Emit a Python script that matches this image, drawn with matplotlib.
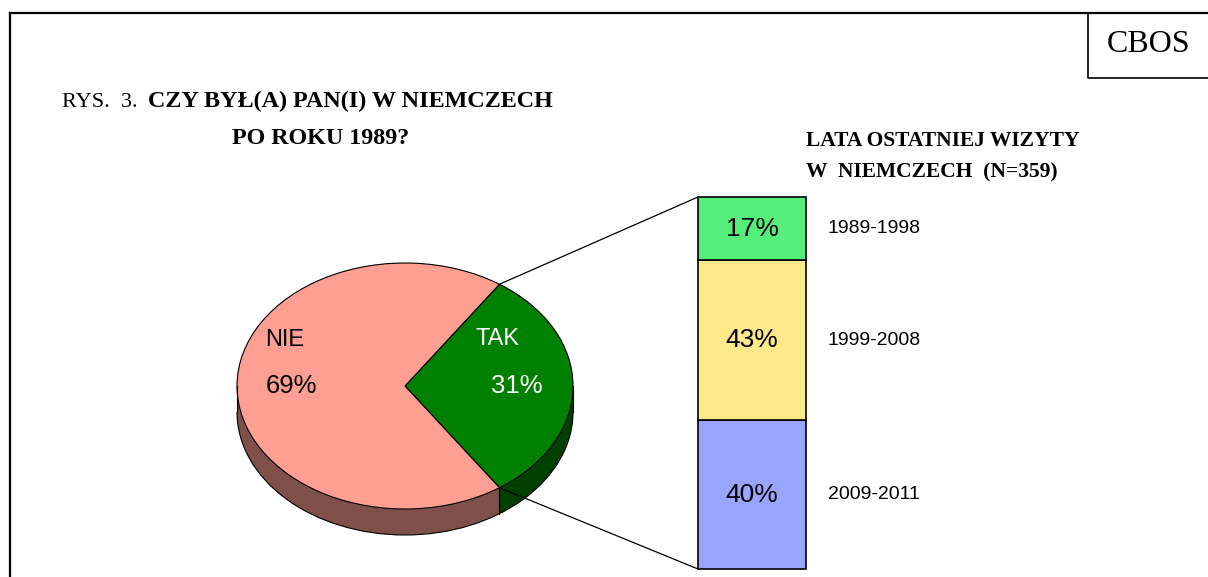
import matplotlib.pyplot as plt
from matplotlib.patches import ConnectionPatch, Arc
import numpy as np

# dane
pie_labels = ["TAK", "NIE"]
pie_values = [31, 69]
bar_labels = ["2009-2011", "1999-2008", "1989-1998"]
bar_values = [40, 43, 17]

pie_top = ["#008000", "#FF9E93"]
pie_side = ["#004000", "#7F4F4A"]
bar_colors = ["#99A4FF", "#FEE98A", "#55EE7A"]

W, H = 1208, 577
fig = plt.figure(figsize=(W / 100, H / 100), dpi=100)

def px_axes(x0, y0, x1, y1):
    # pozycja osi w pikselach (od lewego gornego rogu)
    return fig.add_axes([x0 / W, 1 - y1 / H, (x1 - x0) / W, (y1 - y0) / H])

# --- kolo "3D" ---
cx, cy, rx, ry = 405, 386, 168, 123
xl, yl_top, yl_bot = 1.2, 1.2, 1.5
ax = px_axes(cx - xl * rx, cy - yl_top * ry, cx + xl * rx, cy + yl_bot * ry)
depth = 26 / ry
start = -pie_values[0] * 3.6 / 2

# bok walca: najpierw zielony, potem rozowy na wierzchu
for cols in ([pie_side[0], "none"], ["none", pie_side[1]]):
    for d in np.linspace(0, depth, 40):
        ax.pie(pie_values, colors=cols, startangle=start, center=(0, -d),
               wedgeprops=dict(linewidth=0))
ax.add_patch(Arc((0, -depth), 2, 2, theta1=180, theta2=360, color="black", lw=0.8))
ax.plot([-1, -1], [0, -depth], color="black", lw=0.8)
ax.plot([1, 1], [0, -depth], color="black", lw=0.8)
a = np.deg2rad(start)
ax.plot([np.cos(a)] * 2, [np.sin(a), np.sin(a) - depth], color="black", lw=0.8)
ax.pie(pie_values, colors=pie_top, startangle=start,
       wedgeprops=dict(edgecolor="black", linewidth=0.8))
ax.set_aspect("auto")
ax.set_xlim(-xl, xl)
ax.set_ylim(-yl_bot, yl_top)
ax.axis("off")

# --- slupek ---
bx = px_axes(698, 197, 806, 569)
bottom = 0
for lab, val, col in zip(bar_labels, bar_values, bar_colors):
    bx.bar(0, val, width=1, bottom=bottom, color=col, edgecolor="black",
           linewidth=1.2, clip_on=False)
    bx.text(0, bottom + val / 2, f"{val}%", ha="center", va="center",
            fontsize=19, family="Liberation Sans")
    bx.text(0.70, bottom + val / 2, lab, ha="left", va="center",
            fontsize=14, family="Liberation Sans", clip_on=False)
    bottom += val
bx.set_xlim(-0.5, 0.5)
bx.set_ylim(0, sum(bar_values))
bx.axis("off")

# linie laczace
for sgn, yb in [(1, sum(bar_values)), (-1, 0)]:
    con = ConnectionPatch(xyA=(np.cos(a), -sgn * np.sin(a)), coordsA=ax.transData,
                          xyB=(-0.5, yb), coordsB=bx.transData,
                          color="black", lw=0.9)
    fig.add_artist(con)

# --- ramka, tytuly, etykiety ---
fr = fig.add_axes([0, 0, 1, 1])
fr.set_xlim(0, W)
fr.set_ylim(H, 0)
fr.axis("off")
fr.patch.set_alpha(0)
fr.plot([10, W], [12.5, 12.5], color="black", lw=1.6)
fr.plot([10, 10], [12.5, H], color="black", lw=1.6)
fr.plot([1088, 1088, W], [12.5, 78, 78], color="black", lw=1.2)
fr.text(1149, 44, "CBOS", ha="center", va="center", fontsize=23,
        family="Liberation Serif")

serif = "Liberation Serif"
fr.text(62, 107, "RYS.  3.", fontsize=16, family=serif, va="baseline")
fr.text(148, 107, "CZY BYŁ(A) PAN(I) W NIEMCZECH", fontsize=17.4,
        family=serif, weight="bold", va="baseline")
fr.text(232, 144, "PO ROKU 1989?", fontsize=17.4, family=serif,
        weight="bold", va="baseline")
fr.text(806, 146, "LATA OSTATNIEJ WIZYTY", fontsize=15.5, family=serif,
        weight="bold", va="baseline")
fr.text(806, 177, "W  NIEMCZECH  (N=359)", fontsize=15.5, family=serif,
        weight="bold", va="baseline")

fr.text(265, 340, pie_labels[1], fontsize=17, family="Liberation Sans",
        va="center")
fr.text(266, 386, f"{pie_values[1]}%", fontsize=18.5, family="Liberation Sans",
        va="center")
fr.text(476, 339, pie_labels[0], fontsize=17, family="Liberation Sans",
        va="center", color="white")
fr.text(491, 386, f"{pie_values[0]}%", fontsize=18.5, family="Liberation Sans",
        va="center", color="white")

fig.savefig("out.png", dpi=100)
